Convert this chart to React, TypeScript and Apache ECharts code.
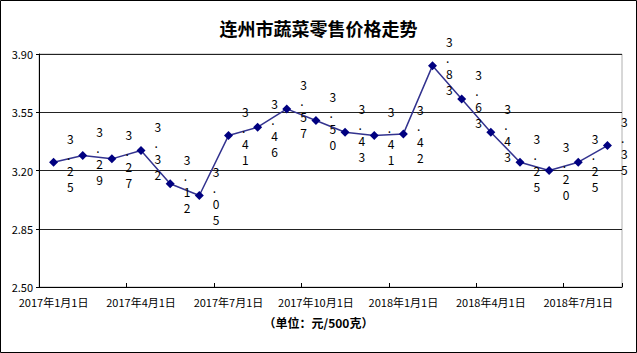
import React, { useEffect, useRef } from 'react';
import * as echarts from 'echarts';

const titleText = '连州市蔬菜零售价格走势';
const unitText = '（单位：元/500克）';
const categories = [
  '2017年1月1日', '2017年2月1日', '2017年3月1日', '2017年4月1日', '2017年5月1日', '2017年6月1日',
  '2017年7月1日', '2017年8月1日', '2017年9月1日', '2017年10月1日', '2017年11月1日', '2017年12月1日',
  '2018年1月1日', '2018年2月1日', '2018年3月1日', '2018年4月1日', '2018年5月1日', '2018年6月1日',
  '2018年7月1日', '2018年8月1日',
];
const prices = [3.25, 3.29, 3.27, 3.32, 3.12, 3.05, 3.41, 3.46, 3.57, 3.5, 3.43, 3.41, 3.42, 3.83, 3.63, 3.43, 3.25, 3.2, 3.25, 3.35];
const yTicks = [2.5, 2.85, 3.2, 3.55, 3.9];

const FONT = '"Noto Sans CJK SC", "Noto Sans", sans-serif';

export default function App() {
  const ref = useRef<HTMLDivElement>(null);
  useEffect(() => {
    document.body.style.margin = '0';
    if (!ref.current) return;
    const chart = echarts.init(ref.current, null, { renderer: 'svg' });
    chart.setOption({
      animation: false,
      backgroundColor: '#fff',
      title: {
        text: titleText,
        left: 'center',
        top: 14,
        textStyle: { fontSize: 18, fontWeight: 'bold', color: '#000', fontFamily: FONT },
      },
      grid: {
        left: 39, right: 15, top: 54, bottom: 66,
        show: true, borderColor: '#b0b0b0', borderWidth: 1, backgroundColor: 'transparent',
      },
      xAxis: {
        type: 'category',
        data: categories,
        boundaryGap: true,
        axisLine: { lineStyle: { color: '#000', width: 1 } },
        axisTick: { show: true, inside: true, length: 4, interval: 2, lineStyle: { color: '#000' } },
        axisLabel: { interval: 2, color: '#000', fontSize: 11, fontFamily: FONT, margin: 9 },
        splitLine: { show: false },
      },
      yAxis: {
        type: 'value',
        min: 2.5,
        max: 3.9,
        axisLine: { show: true, lineStyle: { color: '#000', width: 1 } },
        axisTick: { show: true, length: 3, customValues: yTicks, lineStyle: { color: '#000' } },
        axisLabel: {
          customValues: yTicks,
          color: '#000', fontSize: 11, fontFamily: FONT, margin: 6,
          formatter: (v: number) => v.toFixed(2),
        },
        splitLine: { show: true, lineStyle: { color: '#222', width: 1 } },
      },
      series: [
        {
          type: 'line',
          data: prices,
          symbol: 'diamond',
          symbolSize: 9,
          lineStyle: { color: '#33338f', width: 1.5 },
          itemStyle: { color: '#000080' },
          label: {
            show: true,
            position: 'right',
            distance: 9,
            color: '#000',
            fontSize: 12,
            lineHeight: 16,
            fontFamily: FONT,
            formatter: (p: any) => Number(p.value).toFixed(2).split('').join('\n'),
          },
        },
      ],
      graphic: [
        {
          type: 'text',
          left: 'center',
          top: 316,
          style: { text: unitText, fontSize: 12, fontWeight: 'bold', fill: '#000', fontFamily: FONT },
        },
        {
          type: 'rect',
          shape: { x: 0.5, y: 0.5, width: 636, height: 352 },
          style: { fill: 'none', stroke: '#000', lineWidth: 1 },
          silent: true,
        },
      ],
    });
    return () => chart.dispose();
  }, []);
  return <div ref={ref} style={{ width: 637, height: 353 }} />;
}
